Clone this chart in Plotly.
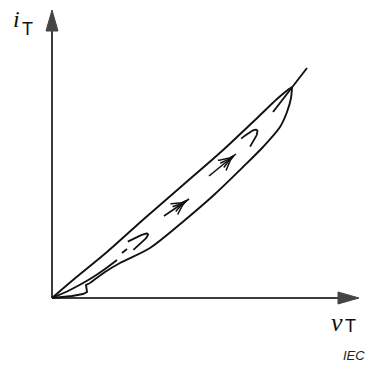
import numpy as np
import plotly.graph_objects as go

# Schematic i_T / v_T loop, coordinates in drawing units (origin at the axes' corner)

# Outer loop, rising branch (upper edge)
upper_v = [0, 21, 55, 93, 131, 170, 203, 225, 237, 240]
upper_i = [0, 18, 46, 80, 113, 147, 178, 199, 209, 211]

# Outer loop, returning branch (lower edge) from the tip down to the notch
lower_v = [240, 239, 235, 228, 211, 191, 163, 133, 98, 68, 53, 38]
lower_i = [211, 200, 186, 171, 151, 131, 104, 78, 50, 35, 26, 15]

# Notch near the origin on the lower edge
notch_v = [38, 34, 35, 31, 20, 0]
notch_i = [15, 13, 6, 4, 2, 0]

# Inner track: solid start, one dash, and the run into the tip
inner_start_v = [0, 18, 38, 53, 65]
inner_start_i = [0, 8, 19, 29, 38]
inner_dash_v = [70, 75]
inner_dash_i = [45, 49]
inner_end_v = [221, 240, 255]
inner_end_i = [186, 211, 230]

# Direction arrows along the inner track: tail, head
arrow_tail_v = [112, 157]
arrow_tail_i = [82, 122]
arrow_head_v = [137, 184]
arrow_head_i = [99, 144]

# Hairpin loops: tip position, axis angle (deg), length, half-width
hairpin_v = [96, 205]
hairpin_i = [64, 168]
hairpin_ang = [34, 48]
hairpin_len = [21, 17]
hairpin_half = [5.0, 6.0]

LINE = "#111111"
AXIS = "#3c3c3c"

fig = go.Figure()


def path(x, y, width=1.9, color=LINE, shape="spline", smoothing=0.8):
    fig.add_trace(go.Scatter(
        x=x, y=y, mode="lines",
        line=dict(color=color, width=width, shape=shape, smoothing=smoothing),
        hoverinfo="skip", showlegend=False))


# axes with filled arrowheads
path([0, 0], [0, 270], width=2, color=AXIS, shape="linear")
path([0, 288], [0, 0], width=2, color=AXIS, shape="linear")
fig.add_trace(go.Scatter(x=[-6, 6, 0, -6], y=[267, 267, 288, 267], mode="lines",
                         fill="toself", fillcolor="#444444",
                         line=dict(color="#444444", width=1),
                         hoverinfo="skip", showlegend=False))
fig.add_trace(go.Scatter(x=[286, 286, 307, 286], y=[-6, 6, 0, -6], mode="lines",
                         fill="toself", fillcolor="#444444",
                         line=dict(color="#444444", width=1),
                         hoverinfo="skip", showlegend=False))

# outer loop
path(upper_v, upper_i)
path(lower_v, lower_i)
path(notch_v, notch_i, shape="linear")

# inner track
path(inner_start_v, inner_start_i)
path(inner_dash_v, inner_dash_i, shape="linear")
path(inner_end_v, inner_end_i, shape="linear")

# arrows: shaft plus curved barbs converging just behind the head
for tv, ti, hv, hi in zip(arrow_tail_v, arrow_tail_i, arrow_head_v, arrow_head_i):
    path([tv, hv], [ti, hi], width=1.6, shape="linear")
    d = np.array([hv - tv, hi - ti], float)
    d /= np.hypot(*d)
    n = np.array([-d[1], d[0]])
    tip = np.array([hv, hi]) - 3 * d
    for side in (-1, 1):
        for spread in (6.5, 2.8):
            s = np.linspace(0, 1, 14)
            pts = tip[None, :] - (15 * s)[:, None] * d + (side * spread * s ** 1.5)[:, None] * n
            path(pts[:, 0], pts[:, 1], width=1.5, shape="linear")

# hairpin loops
for cv, ci, ang, ln, hw in zip(hairpin_v, hairpin_i, hairpin_ang, hairpin_len, hairpin_half):
    a = np.radians(ang)
    d = np.array([np.cos(a), np.sin(a)])
    n = np.array([-d[1], d[0]])
    t = np.linspace(-1, 1, 41)
    back = ln * np.abs(t) ** 2.2
    pts = np.array([cv, ci])[None, :] - back[:, None] * d + (hw * t)[:, None] * n
    path(pts[:, 0], pts[:, 1], width=1.8, shape="linear")

# labels
serif = "Liberation Serif"
sans = "Liberation Sans"
fig.add_annotation(x=-36, y=279, text="<i>i</i>", showarrow=False,
                   font=dict(family=serif, size=24, color="#111"))
fig.add_annotation(x=-25, y=269.5, text="T", showarrow=False,
                   font=dict(family=sans, size=18, color="#111"))
fig.add_annotation(x=285, y=-24, text="<i>v</i>", showarrow=False,
                   font=dict(family=serif, size=26, color="#111"))
fig.add_annotation(x=298.5, y=-28, text="T", showarrow=False,
                   font=dict(family=sans, size=18, color="#111"))
fig.add_annotation(x=301.5, y=-57, text="<i>IEC</i>", showarrow=False,
                   font=dict(family=sans, size=13, color="#222"))

fig.update_layout(
    width=370, height=366,
    margin=dict(l=0, r=0, t=0, b=0),
    paper_bgcolor="white", plot_bgcolor="white",
    xaxis=dict(range=[-52, 318], visible=False, fixedrange=True),
    yaxis=dict(range=[-68, 298], visible=False, fixedrange=True),
    showlegend=False,
)

fig.write_html("out.html")
